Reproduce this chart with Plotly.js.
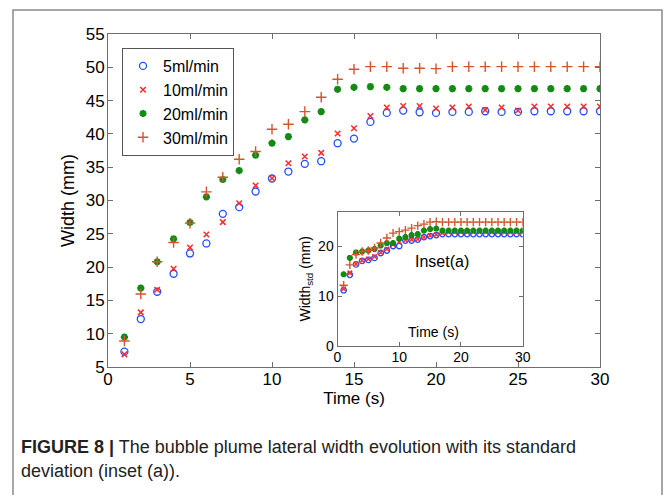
<!DOCTYPE html>
<html><head><meta charset="utf-8">
<script src="https://cdn.plot.ly/plotly-3.0.1.min.js"></script>
<style>html,body{margin:0;padding:0;background:#fff}#chart{width:666px;height:495px}</style>
</head><body><div id="chart"></div>
<script>
// Main plot data
var timeMain = [1,2,3,4,5,6,7,8,9,10,11,12,13,14,15,16,17,18,19,20,21,22,23,24,25,26,27,28,29,30];
var w5  = [7.3,12.2,16.3,19.0,22.05,23.55,28.0,29.0,31.35,33.3,34.35,35.5,35.9,38.6,39.3,41.8,43.15,43.5,43.25,43.15,43.3,43.3,43.4,43.3,43.3,43.4,43.4,43.4,43.4,43.4];
var w10 = [6.9,13.2,16.6,19.75,22.95,24.9,26.75,29.6,32.25,33.35,35.6,36.6,37.15,40.05,40.85,42.7,43.95,44.2,44.2,43.8,43.95,44.1,43.6,43.95,43.5,44.1,44.1,44.1,44.1,44.1];
var w20 = [9.5,16.85,20.8,24.25,26.7,30.55,33.15,34.5,36.8,38.6,39.6,42.1,43.35,46.7,47.0,47.1,47.0,46.8,46.8,46.8,46.8,46.8,46.8,46.8,46.8,46.8,46.8,46.8,46.8,46.8];
var w30 = [8.9,15.95,20.8,23.7,26.6,31.3,33.5,36.2,37.35,40.7,41.45,43.35,45.5,48.2,49.7,50.1,50.1,49.85,49.85,49.8,50.1,50.1,50.1,50.1,50.1,50.1,50.1,50.1,50.1,50.1];
// Inset (a): standard deviation
var timeInset = [1,2,3,4,5,6,7,8,9,10,11,12,13,14,15,16,17,18,19,20,21,22,23,24,25,26,27,28,29,30];
var s5  = [11.2,14.3,16.4,17.1,17.3,17.7,18.7,19.2,20.1,20.1,21.2,21.2,21.4,21.9,22.1,22.3,22.5,22.5,22.5,22.5,22.5,22.5,22.5,22.5,22.5,22.5,22.5,22.5,22.5,22.5];
var s10 = [11.5,14.7,16.5,17.2,17.5,18.0,18.8,19.5,20.4,20.9,21.3,21.4,21.5,21.9,22.2,22.4,22.7,22.9,22.9,22.9,22.9,22.9,22.9,22.9,22.9,22.9,22.9,22.9,22.9,22.9];
var s20 = [14.4,17.7,18.8,19.0,19.2,19.5,20.2,20.7,20.7,21.6,21.9,22.3,22.5,23.2,23.5,23.6,23.2,23.2,23.2,23.2,23.2,23.2,23.2,23.2,23.2,23.2,23.2,23.2,23.2,23.2];
var s30 = [12.2,16.3,18.4,19.0,19.2,19.7,20.7,21.7,22.7,23.0,23.3,23.7,24.2,24.5,24.9,25.0,24.9,24.9,24.9,24.9,24.9,24.9,24.9,24.9,24.9,24.9,24.9,24.9,24.9,24.9];
var seriesNames = ['5ml/min','10ml/min','20ml/min','30ml/min'];
var mainTickX = [0,5,10,15,20,25,30];
var mainTickY = [5,10,15,20,25,30,35,40,45,50,55];

var colors = ['#1f4fff','#ff2a2a','#138a13','#d4552c'];
var symbols = ['circle-open','x-thin-open','asterisk-open','cross-thin-open'];
var mSizes = [7,5.5,6,7.5];
var mLines = [1.3,1.5,2.2,1.4];
var inSizes = [5.5,4.5,5,6];
var mainY = [w5,w10,w20,w30];
var insetY = [s5,s10,s20,s30];

var traces = [];
for (var i=0;i<4;i++){
  traces.push({x:timeMain,y:mainY[i],type:'scatter',mode:'markers',name:seriesNames[i],
    marker:{symbol:symbols[i],color:colors[i],size:mSizes[i],line:{color:colors[i],width:mLines[i]}},
    xaxis:'x',yaxis:'y'});
}
for (var j=0;j<4;j++){
  traces.push({x:timeInset,y:insetY[j],type:'scatter',mode:'markers',name:seriesNames[j],showlegend:false,
    marker:{symbol:symbols[j],color:colors[j],size:inSizes[j],line:{color:colors[j],width:mLines[j]}},
    xaxis:'x2',yaxis:'y2'});
}

var font = 'Liberation Sans, Arial, sans-serif';
var axCol = '#6e6e6e';
var layout = {
  width:666,height:495,margin:{l:0,r:0,t:0,b:0},
  paper_bgcolor:'#fff',plot_bgcolor:'#fff',
  font:{family:font,color:'#000'},
  showlegend:true,
  legend:{x:122/666,y:1-48/495,xanchor:'left',yanchor:'top',bgcolor:'#fff',bordercolor:'#555',borderwidth:1,
    font:{size:16,family:font,color:'#000'},itemwidth:30,tracegroupgap:0},
  xaxis:{domain:[108/666,600/666],anchor:'y',range:[0,30],tickvals:mainTickX,ticks:'inside',ticklen:5,tickcolor:axCol,
    showline:true,linecolor:axCol,linewidth:1,mirror:'ticks',showgrid:false,zeroline:false,ticklabelstandoff:-3,
    tickfont:{size:17,color:'#000'},title:{text:'Time (s)',font:{size:17,color:'#000'},standoff:0}},
  yaxis:{domain:[1-367/495,1-34/495],anchor:'x',range:[5,55],tickvals:mainTickY,ticks:'inside',ticklen:5,tickcolor:axCol,
    showline:true,linecolor:axCol,linewidth:1,mirror:'ticks',showgrid:false,zeroline:false,ticklabelstandoff:-1,
    tickfont:{size:17,color:'#000'},title:{text:'Width (mm)',font:{size:18,color:'#000'},standoff:6}},
  xaxis2:{domain:[337.5/666,522.7/666],anchor:'y2',range:[0,30],tickvals:[0,10,20,30],ticks:'inside',ticklen:4,tickcolor:axCol,
    showline:true,linecolor:axCol,linewidth:1,mirror:'ticks',showgrid:false,zeroline:false,ticklabelstandoff:-2,
    tickfont:{size:14,color:'#000'}},
  yaxis2:{domain:[1-346/495,1-211.7/495],anchor:'x2',range:[0,27],tickvals:[0,10,20],ticks:'inside',ticklen:4,tickcolor:axCol,
    showline:true,linecolor:axCol,linewidth:1,mirror:'ticks',showgrid:false,zeroline:false,
    tickfont:{size:14,color:'#000'},title:{text:'Width<sub>std</sub> (mm)',font:{size:14,color:'#000'},standoff:4}},
  shapes:[{type:'rect',xref:'paper',yref:'paper',x0:13/666,x1:662/666,y0:-0.05,y1:1-10/495,
    line:{color:'#8a8a8a',width:1.5},fillcolor:'rgba(0,0,0,0)',layer:'below'}],
  annotations:[
    {xref:'x2',yref:'y2',x:17,y:16.9,text:'Inset(a)',showarrow:false,font:{size:16,color:'#000'}},
    {xref:'x2',yref:'y2',x:15.5,y:2.8,text:'Time (s)',showarrow:false,font:{size:14,color:'#000'}},
    {xref:'paper',yref:'paper',x:19/666,y:1-447/495,xanchor:'left',yanchor:'middle',showarrow:false,align:'left',
      text:'<b>FIGURE 8 |</b> The bubble plume lateral width evolution with its standard',
      font:{size:18,family:'Liberation Sans Narrow, Arial Narrow, sans-serif',color:'#222'}},
    {xref:'paper',yref:'paper',x:19/666,y:1-471/495,xanchor:'left',yanchor:'middle',showarrow:false,align:'left',
      text:'deviation (inset (a)).',
      font:{size:18,family:'Liberation Sans Narrow, Arial Narrow, sans-serif',color:'#222'}}
  ]
};
Plotly.newPlot('chart',traces,layout,{staticPlot:true,displayModeBar:false});
</script></body></html>
